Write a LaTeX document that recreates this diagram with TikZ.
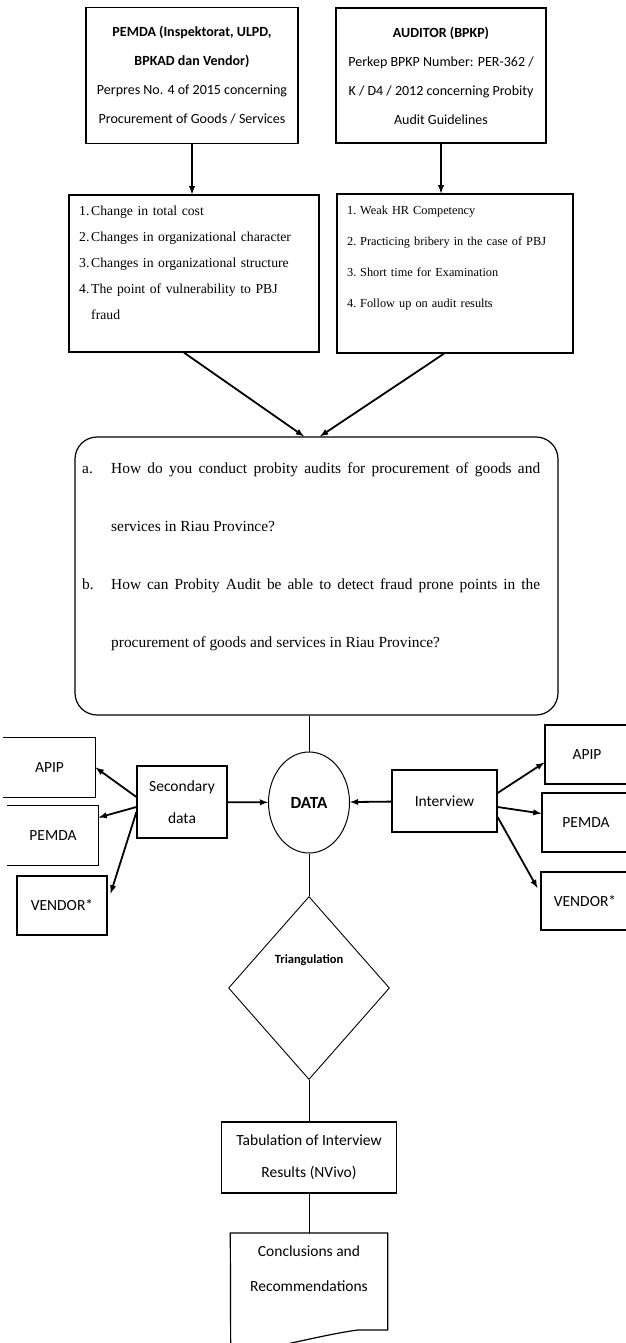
\documentclass[tikz,border=0pt]{standalone}
\usepackage{fontspec}
\setmainfont{Liberation Serif}
\newfontfamily\calibri{Carlito}
\usetikzlibrary{shapes.geometric}

\tikzstyle{headbox}=[rectangle,draw,line width=1.5pt,inner sep=0pt,align=center,font=\calibri\fontsize{14}{29}\selectfont]
\tikzstyle{listbox}=[rectangle,draw,line width=1.3pt,inner sep=0pt]
\tikzstyle{listtext}=[inner sep=0pt,anchor=north west,align=left]
\tikzstyle{srcbox}=[rectangle,draw,line width=1.2pt,inner sep=0pt,align=center,font=\calibri\fontsize{15.5}{32}\selectfont]
\tikzstyle{arrowline}=[draw,line width=1.8pt,->]
\tikzstyle{link}=[draw,line width=0.8pt,-]

\begin{document}
\begin{tikzpicture}[->, >=latex, x=1pt, y=-1pt]
	\useasboundingbox (0,0) rectangle (626,1343);

	% sources
	\node [headbox, minimum width=212pt, minimum height=136pt] (pemda) at (192,75.5) {\textbf{PEMDA (Inspektorat, ULPD,}\\ \textbf{BPKAD dan Vendor)}\\ Perpres No. 4 of 2015 concerning\\ Procurement of Goods / Services};
	\node [headbox, minimum width=210pt, minimum height=135pt] (auditor) at (441,75.5) {\textbf{AUDITOR (BPKP)}\\ Perkep BPKP Number: PER-362 /\\ K / D4 / 2012 concerning Probity\\ Audit Guidelines};

	% factors
	\node [listbox, minimum width=250pt, minimum height=157pt] (factors) at (194,273.5) {};
	\node [listtext, text width=230pt, font=\fontsize{13.7}{26}\selectfont] (factorlist) at (79,205.5) {%
		\makebox[12pt][l]{1.}Change in total cost\\
		\makebox[12pt][l]{2.}Changes in organizational character\\
		\makebox[12pt][l]{3.}Changes in organizational structure\\
		\makebox[12pt][l]{4.}The point of vulnerability to PBJ\\
		\hspace*{12pt}fraud};
	\node [listbox, minimum width=236pt, minimum height=159pt] (weakness) at (455,273.5) {};
	\node [listtext, text width=220pt, font=\fontsize{12.3}{31}\selectfont] (weaklist) at (347,205.5) {%
		\makebox[13pt][l]{1.}Weak HR Competency\\
		\makebox[13pt][l]{2.}Practicing bribery in the case of PBJ\\
		\makebox[13pt][l]{3.}Short time for Examination\\
		\makebox[13pt][l]{4.}Follow up on audit results};

	% research questions
	\node [rectangle, draw, rounded corners=22pt, line width=1.2pt, minimum width=483pt, minimum height=278pt] (questions) at (316.5,576) {};
	\node [inner sep=0pt, anchor=base west, font=\fontsize{15.4}{58}\selectfont] (qlist) at (82,473) {%
		\hyphenpenalty=10000\relax
		\begin{tabular}[t]{@{}p{29pt}@{}p{429pt}@{}}
		a. & How do you conduct probity audits for procurement of goods and services in Riau Province?\\
		b. & How can Probity Audit be able to detect fraud prone points in the procurement of goods and services in Riau Province?
		\end{tabular}};

	% data collection
	\node [ellipse, draw, line width=1pt, minimum width=81pt, minimum height=101pt, inner sep=0pt, font=\calibri\bfseries\fontsize{17}{20}\selectfont] (data) at (309,802.5) {DATA};
	\node [srcbox, minimum width=90pt, minimum height=72pt] (secondary) at (182,802) {Secondary\\data};
	\node [srcbox, minimum width=105pt, minimum height=62pt] (interview) at (444.5,801) {Interview};
	\node [srcbox, draw=none, minimum width=91pt, minimum height=59pt] (apipl) at (49.5,767.5) {APIP};
	\node [srcbox, draw=none, minimum width=90pt, minimum height=59pt] (pemdal) at (53,835.5) {PEMDA};
	\node [srcbox, minimum width=90pt, minimum height=59pt] (vendorl) at (62,905.5) {VENDOR*};
	\node [srcbox, minimum width=84pt, minimum height=59pt] (apipr) at (587,754.5) {APIP};
	\node [srcbox, minimum width=88pt, minimum height=59pt] (pemdar) at (586,822.5) {PEMDA};
	\node [srcbox, minimum width=88pt, minimum height=58pt] (vendorr) at (585,901) {VENDOR*};
	\draw [line width=1.2pt, -] (apipl.north west) -- (apipl.north east) -- (apipl.south east) -- (apipl.south west);
	\draw [line width=1.2pt, -] (pemdal.north west) -- (pemdal.north east) -- (pemdal.south east) -- (pemdal.south west);

	% analysis
	\node [diamond, draw, line width=0.9pt, minimum width=161pt, minimum height=183pt, inner sep=0pt] (triang) at (309,988) {};
	\node [inner sep=0pt, font=\calibri\bfseries\fontsize{12.5}{15}\selectfont] (trilabel) at (309,960) {Triangulation};
	\node [srcbox, minimum width=175pt, minimum height=71pt] (tabulation) at (309,1157.5) {Tabulation of Interview\\Results (NVivo)};
	\node [inner xsep=0pt, inner ysep=13pt, anchor=north, minimum width=157pt, align=center, font=\calibri\fontsize{15.5}{35}\selectfont] (conclusion) at (309,1233) {Conclusions and\\Recommendations};
	\draw [line width=1.2pt, -] (conclusion.north west) -- (conclusion.north east) -- ++(0,97) -- ++(-30,0)
		.. controls +(-30,4) and +(50,-10) .. ++(-127,26) -- cycle;

	\draw [arrowline] (pemda.south) -- (pemda.south |- factors.north);
	\draw [arrowline] (auditor.south) -- (auditor.south |- weakness.north);
	\draw [arrowline] ([xshift=-10pt]factors.south) -- ([xshift=-12.5pt]questions.north);
	\draw [arrowline] ([xshift=-11pt]weakness.south) -- ([xshift=3.5pt]questions.north);
	\draw [link] (questions.south -| data) -- (data);
	\draw [arrowline] (secondary) -- (data);
	\draw [arrowline] (interview) -- (data);
	\draw [arrowline] ([yshift=5pt]secondary.west) -- (apipl.east);
	\draw [arrowline] ([yshift=-5pt]secondary.west) -- ([yshift=18pt]pemdal.east);
	\draw [arrowline] ([yshift=-10pt]secondary.west) -- ([xshift=3pt,yshift=12pt]vendorl.east);
	\draw [arrowline] ([yshift=8pt]interview.east) -- ([yshift=-8pt]apipr.west);
	\draw [arrowline] ([yshift=-6pt]interview.east) -- ([yshift=9pt]pemdar.west);
	\draw [arrowline] ([yshift=-16pt]interview.east) -- ([xshift=-3pt,yshift=13pt]vendorr.west);
	\draw [link] (data) -- (triang);
	\draw [link] (triang) -- (tabulation);
	\draw [link] (tabulation) -- (conclusion.north);
\end{tikzpicture}
\end{document}
